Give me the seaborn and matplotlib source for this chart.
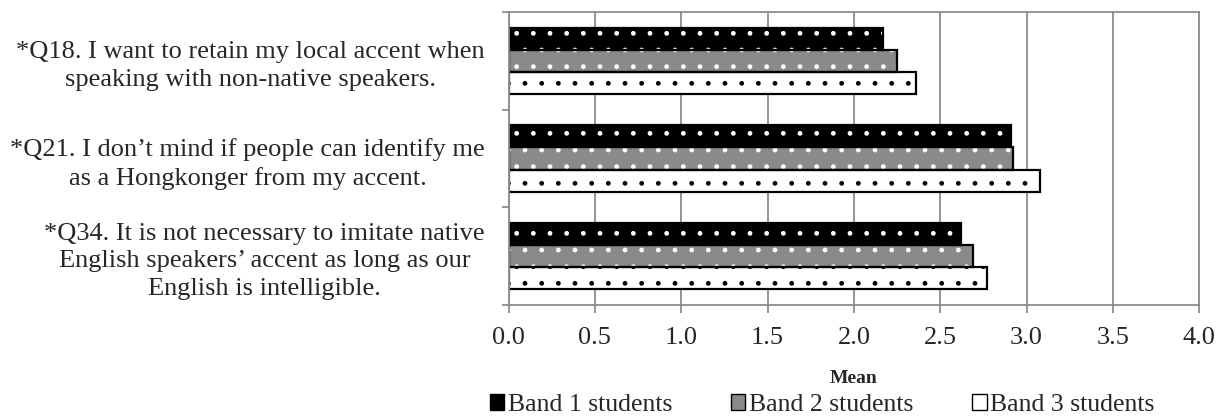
import numpy as np
import pandas as pd
import matplotlib
matplotlib.use("Agg")
import matplotlib.pyplot as plt
from matplotlib.patches import Patch
from matplotlib.ticker import FormatStrFormatter
import seaborn as sns

# ---- data ----
questions = [
    "*Q18. I want to retain my local accent when\nspeaking with non-native speakers.",
    "*Q21. I don\u2019t mind if people can identify me\nas a Hongkonger from my accent.",
    "*Q34. It is not necessary to imitate native\nEnglish speakers\u2019 accent as long as our\nEnglish is intelligible.",
]
groups = ["Band 1 students", "Band 2 students", "Band 3 students"]
band1 = [2.17, 2.91, 2.62]
band2 = [2.25, 2.92, 2.69]
band3 = [2.36, 3.08, 2.77]
x_ticks = [0.0, 0.5, 1.0, 1.5, 2.0, 2.5, 3.0, 3.5, 4.0]
x_label = "Mean"

rows = []
for g, vals in zip(groups, [band1, band2, band3]):
    for q, v in zip(questions, vals):
        rows.append({"question": q, "group": g, "mean": v})
df = pd.DataFrame(rows)

# ---- style ----
sns.set_style("white")
plt.rcParams["font.family"] = ["Liberation Serif", "DejaVu Serif"]
plt.rcParams["hatch.linewidth"] = 1.0

face = ["black", "#8a8a8a", "white"]
hatch_col = ["white", "white", "black"]
hatches = [".", ".", "."]
grid_col = "#8c8c8c"

fig = plt.figure(figsize=(12.29, 4.16), dpi=100)
ax = fig.add_axes([0.4138, 0.2668, 0.5620, 0.7044])

# hatched fill layer
sns.barplot(data=df, y="question", x="mean", hue="group", hue_order=groups,
            order=questions, orient="h", palette=face, saturation=1,
            width=0.68, errorbar=None, legend=False, ax=ax)
for i, cont in enumerate(ax.containers):
    for p in cont:
        p.set_facecolor(face[i])
        p.set_edgecolor(hatch_col[i])
        p.set_linewidth(0)
        p.set_hatch(hatches[i])

n_before = len(ax.patches)
# outline layer
sns.barplot(data=df, y="question", x="mean", hue="group", hue_order=groups,
            order=questions, orient="h", palette=face, saturation=1,
            width=0.68, errorbar=None, legend=False, ax=ax)
for p in ax.patches[n_before:]:
    p.set_facecolor("none")
    p.set_edgecolor("black")
    p.set_linewidth(1.6)

# axes formatting
ax.set_xlim(0, 4)
ax.set_xticks(x_ticks)
ax.xaxis.set_major_formatter(FormatStrFormatter("%.1f"))
ax.grid(axis="x", color=grid_col, linewidth=1.3)
ax.grid(axis="y", visible=False)
ax.set_axisbelow(True)
for s in ax.spines.values():
    s.set_visible(True)
    s.set_color(grid_col)
    s.set_linewidth(1.3)

ax.tick_params(axis="x", which="major", direction="out", length=6, width=1.3,
               color=grid_col, labelsize=19, pad=10, bottom=True)
ax.tick_params(axis="y", which="major", length=0, labelsize=19, pad=17)
ax.set_yticks([-0.5, 0.5, 1.5, 2.5], minor=True)
ax.tick_params(axis="y", which="minor", direction="out", length=5, width=1.3,
               color=grid_col, left=True)
for lab in ax.get_yticklabels():
    lab.set_multialignment("center")
    lab.set_linespacing(1.32)

ax.set_ylabel("")
ax.set_xlabel(x_label, fontsize=14, fontweight="bold", labelpad=15)

handles = [Patch(facecolor=face[i], edgecolor="black", linewidth=1.0) for i in range(3)]
fig.legend(handles, groups, loc="center", bbox_to_anchor=(0.669, 0.026), ncol=3,
           frameon=False, fontsize=18.5, handlelength=0.55, handleheight=0.55,
           handletextpad=0.15, columnspacing=2.3, borderaxespad=0)

fig.savefig("out.png", dpi=100)
